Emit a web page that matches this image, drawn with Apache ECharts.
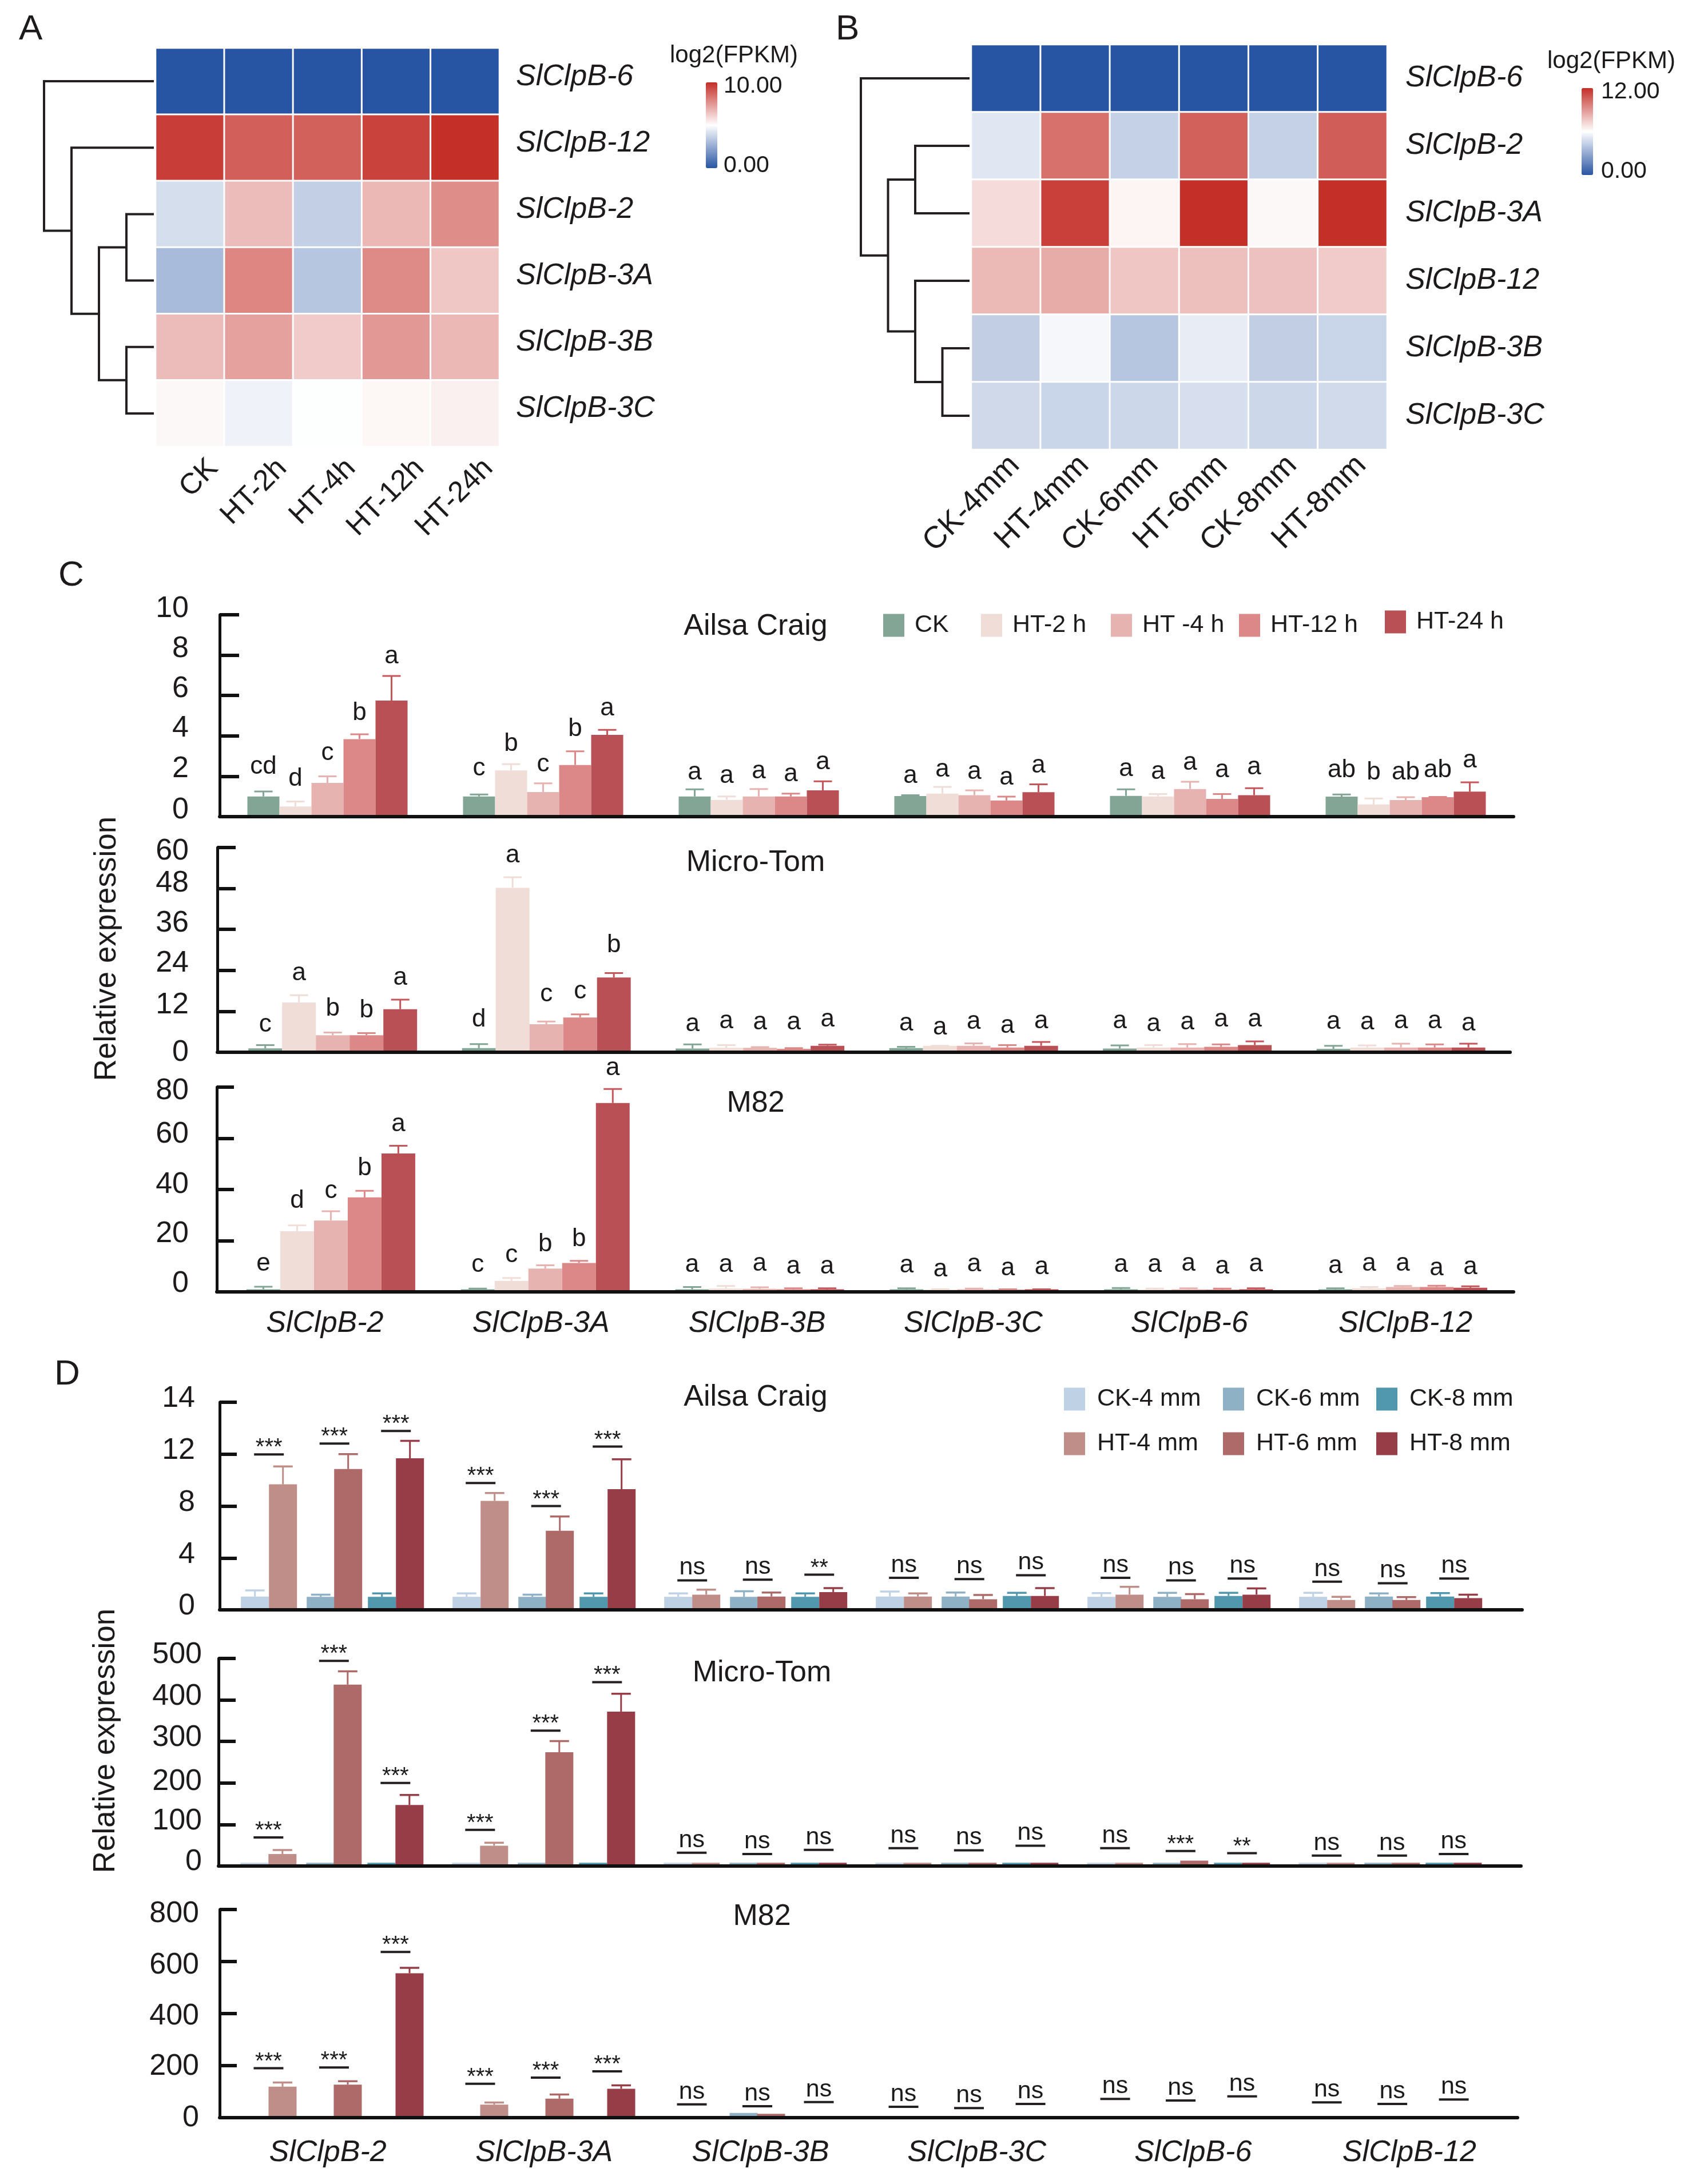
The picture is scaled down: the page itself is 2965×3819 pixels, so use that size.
<!DOCTYPE html>
<html><head><meta charset="utf-8">
<style>html,body{margin:0;padding:0;background:#fff}#c{width:2965px;height:3819px}</style>
<script src="https://cdn.jsdelivr.net/npm/echarts@6/dist/echarts.min.js"></script>
</head><body><div id="c"></div>
<script>
// ---------- DATA ----------
const genes=['SlClpB-2','SlClpB-3A','SlClpB-3B','SlClpB-3C','SlClpB-6','SlClpB-12'];
const timeNames=['CK','HT-2 h','HT -4 h','HT-12 h','HT-24 h'];
const stageNames=['CK-4 mm','HT-4 mm','CK-6 mm','HT-6 mm','CK-8 mm','HT-8 mm'];

const heatARows=['SlClpB-6','SlClpB-12','SlClpB-2','SlClpB-3A','SlClpB-3B','SlClpB-3C'];
const heatACols=['CK','HT-2h','HT-4h','HT-12h','HT-24h'];
const heatAValues=[
 [0,0,0,0,0],
 [9.66,8.84,8.8,9.55,10],
 [4.02,6.6,3.6,6.7,7.75],
 [3.0,7.9,3.3,7.8,6.35],
 [6.6,7.25,6.25,7.45,6.7],
 [5.17,4.63,4.96,5.2,5.36]];
const heatAMerges=[[2,3,1],[4,5,1],['m0','m1',2],[1,'m2',3],[0,'m3',4]];

const heatBRows=['SlClpB-6','SlClpB-2','SlClpB-3A','SlClpB-12','SlClpB-3B','SlClpB-3C'];
const heatBCols=['CK-4mm','HT-4mm','CK-6mm','HT-6mm','CK-8mm','HT-8mm'];
const heatBValues=[
 [0,0,0,0,0,0],
 [5.14,10.1,4.38,10.55,4.38,10.67],
 [7,11.5,6.3,12,6.2,12],
 [8.03,8.43,7.65,7.83,7.8,7.5],
 [4.27,5.72,4.0,5.36,4.27,4.5],
 [4.66,4.5,4.6,4.88,4.6,4.71]];
const heatBMerges=[[1,2,2],[4,5,1],[3,'m1',2],['m0','m2',3],[0,'m3',4]];

// Panel C: rows = genes, columns = CK, HT-2, HT-4, HT-12, HT-24
const cAilsaMeans=[[1,.5,1.67,3.84,5.75],[1,2.29,1.22,2.56,4.05],[1,.83,1,1,1.3],[1.02,1.14,1.06,.8,1.21],[1.03,1,1.37,.88,1.06],[.99,.6,.82,.96,1.24]];
const cAilsaTops=[[1.25,.75,2,4.08,6.97],[1.1,2.6,1.65,3.24,4.3],[1.35,1,1.37,1.14,1.75],[1.06,1.47,1.3,.99,1.6],[1.35,1.12,1.73,1.12,1.41],[1.1,.9,.96,.98,1.7]];
const cAilsaLetterY=[[2.37,1.78,3.05,5.06,7.84],[2.29,3.52,2.49,4.24,5.27],[2.1,1.94,2.17,2.02,2.6],[1.93,2.25,2.12,1.85,2.43],[2.28,2.12,2.58,2.2,2.35],[2.2,2.09,2.09,2.2,2.69]];
const cAilsaLetters=[['cd','d','c','b','a'],['c','b','c','b','a'],['a','a','a','a','a'],['a','a','a','a','a'],['a','a','a','a','a'],['ab','b','ab','ab','a']];

const cMicroMeans=[[1.13,14.6,5,5,12.6],[1.2,48.2,8.2,10.2,21.9],[1.1,1.3,1.3,1,1.9],[1.2,1.9,1.9,1.4,1.9],[1.1,1.4,1.4,1.6,2.1],[1,1.4,1.4,1.4,1.4]];
const cMicroTops=[[2.1,16.7,5.8,5.6,15.4],[2.4,51.3,9,11.1,23.2],[2.3,2.1,1.5,1.2,2.2],[1.6,1.9,2.6,2.1,3],[2,2.1,2.4,2.3,3.2],[1.9,2,2.5,2.3,2.5]];
const cMicroLetterY=[[7.6,22.7,12.3,11.8,21.3],[9,57.2,16.5,17.3,30.9],[7.8,8.5,8.2,8.2,9],[7.9,6.8,8.4,7.3,8.6],[8.6,7.7,8.2,9,9],[8.4,8.2,8.6,8.6,7.9]];
const cMicroLetters=[['c','a','b','b','a'],['d','a','c','c','b'],['a','a','a','a','a'],['a','a','a','a','a'],['a','a','a','a','a'],['a','a','a','a','a']];

const cM82Means=[[1,23.7,27.9,36.9,54.1],[1,4.3,9.1,11.3,73.8],[1,1.3,1.2,1,1],[1,.9,1,.9,1],[1,.9,1,.9,1],[1,1.4,1.9,1.9,1.6]];
const cM82Tops=[[2,26,31.5,39.5,57.1],[1.3,5.4,10.4,12.1,79.3],[1.9,2.3,1.8,1.4,1.4],[1.4,1,1.3,1,1],[1.5,1.3,1.4,1.3,1.4],[1.4,1.9,2.3,2.4,2.2]];
const cM82LetterY=[[10.2,34.9,38.6,47.7,64.9],[9.9,13.6,18,19.9,86.7],[9.9,9.9,10.2,9.3,9.3],[9.7,8,10.1,8.5,9],[9.9,9.9,10.2,9.3,10.1],[9.5,10.2,10.2,8.5,9]];
const cM82Letters=[['e','d','c','b','a'],['c','c','b','b','a'],['a','a','a','a','a'],['a','a','a','a','a'],['a','a','a','a','a'],['a','a','a','a','a']];

// Panel D: rows = genes, columns = CK-4, HT-4, CK-6, HT-6, CK-8, HT-8
const dAilsaMeans=[[1.03,9.67,1,10.85,1,11.68],[1,8.4,1,6.09,1,9.3],[1,1.17,1,1.03,1,1.37],[1.03,1.03,1.03,.82,1.07,1.07],[1,1.17,1,.82,1.07,1.17],[1,.76,1.03,.76,1.03,.9]];
const dAilsaTops=[[1.5,11.05,1.17,12,1.27,13.03],[1.27,9,1.17,7.2,1.27,11.6],[1.27,1.55,1.43,1.33,1.27,1.67],[1.41,1.27,1.33,1.15,1.31,1.67],[1.29,1.77,1.31,1.21,1.31,1.65],[1.31,1,1.27,.98,1.29,1.17]];
const dAilsaSigY=[[11.98,12.82,13.79],[9.77,8,12.58],[2.27,2.33,2.71],[2.47,2.37,2.67],[2.47,2.27,2.41],[2.17,2.05,2.41]];
const dAilsaSig=[['***','***','***'],['***','***','***'],['ns','ns','**'],['ns','ns','ns'],['ns','ns','ns'],['ns','ns','ns']];

const dMicroMeans=[[8,29,8,437,8,147],[8,49,8,274,8,372],[8,8,8,8,8,8],[8,8,8,8,8,8],[8,8,8,13,8,8],[8,8,8,8,8,8]];
const dMicroTops=[[8,38.5,8,469,8,171],[8,56,8,301,8,415],[8,8,8,8,8,8],[8,8,8,8,8,8],[8,8,8,13,8,8],[8,8,8,8,8,8]];
const dMicroSigY=[[69,494,200],[87,326,443],[32,29,39],[43,38,49],[43,36,31],[25,25,29]];
const dMicroSig=[['***','***','***'],['***','***','***'],['ns','ns','ns'],['ns','ns','ns'],['ns','***','**'],['ns','ns','ns']];

const dM82Means=[[1,119,1,127,1,555],[1,50,1,73,1,111],[1,1,18,15,1,1],[1,1,1,1,1,1],[1,1,1,1,1,1],[1,1,1,1,1,1]];
const dM82Tops=[[1,135,1,140,1,576],[1,58,1,89,1,124],[1,1,18,15,1,1],[1,1,1,1,1,1],[1,1,1,1,1,1],[1,1,1,1,1,1]];
const dM82SigY=[[190,193,637],[130,154,178],[51,44,60],[42,37,53],[72,66,82],[59,53,70]];
const dM82Sig=[['***','***','***'],['***','***','***'],['ns','ns','ns'],['ns','ns','ns'],['ns','ns','ns'],['ns','ns','ns']];

const cTickLabels={ailsa:['0','2','4','6','8','10'],micro:['0','12','24','36','48','60'],m82:['0','20','40','60','80']};
const dTickLabels={ailsa:['0','4','8','12','14'],micro:['0','100','200','300','400','500'],m82:['0','200','400','600','800']};

// ---------- STYLE / LAYOUT ----------
const FF='"Liberation Sans",Arial,sans-serif', INK='#1c1a1a';
const timeColors=['#83a595','#f0ddd8','#e7b3b1','#dd8888','#b85055'];
const timeErr=['#83a595','#f0ddd8','#e7b3b1','#dd8888','#c5565b'];
const stageColors=['#bed1e5','#c08e88','#8fb1c5','#ae6a69','#5197ae','#963d48'];
const pairOffsets=[-137,-88,-22,26,85,134];
const pairCenters=[-112.5,2,109.5];

const grid=[],xAxis=[],yAxis=[],series=[],visualMap=[],legend=[],graphic=[];

function txt(text,x,y,size,extra){
  graphic.push(Object.assign({type:'text',x,y,silent:true,style:Object.assign({text,fontSize:size,fontFamily:FF,fill:INK,align:'left',verticalAlign:'middle'},extra||{})}));
}

function addHeat(o){
  const g=grid.length;
  grid.push({left:o.left,top:o.top,width:o.width,height:o.height,containLabel:false});
  xAxis.push({type:'category',gridIndex:g,data:o.cols,position:'bottom',axisLine:{show:false},axisTick:{show:false},
    axisLabel:{interval:0,rotate:45,fontSize:o.xFont,fontFamily:FF,color:INK,margin:o.xMargin,padding:[0,-o.xShift,0,0],hideOverlap:false}});
  yAxis.push({type:'category',gridIndex:g,data:o.rows,inverse:true,position:'right',axisLine:{show:false},axisTick:{show:false},
    axisLabel:{interval:0,margin:o.yMargin,formatter:v=>'{r|'+v+'}',
      rich:{r:{fontSize:52,fontStyle:'italic',fontFamily:FF,color:INK,padding:[0,0,o.yUp,0]}}}});
  const data=[];
  o.values.forEach((r,y)=>r.forEach((v,x)=>data.push([x,y,v])));
  const si=series.length;
  series.push({type:'heatmap',xAxisIndex:xAxis.length-1,yAxisIndex:yAxis.length-1,data,silent:true,
    itemStyle:{borderColor:'#fff',borderWidth:3},progressive:0});
  visualMap.push({type:'continuous',seriesIndex:si,dimension:2,min:0,max:o.max,calculable:false,hoverLink:false,show:true,
    left:o.vmLeft,top:o.vmTop,itemWidth:20,itemHeight:o.vmH,padding:0,text:null,showLabel:false,
    inRange:{color:['#2855a3','#ffffff','#c42f28']}});
  // dendrogram
  const dg=grid.length;
  grid.push({left:o.dLeft,top:o.top,width:o.dWidth,height:o.height});
  xAxis.push({type:'value',gridIndex:dg,min:0,max:4,inverse:true,show:false});
  yAxis.push({type:'value',gridIndex:dg,min:-0.5,max:o.rows.length-0.5,inverse:true,show:false});
  const nodes={};
  const seg=o.merges.map((m,i)=>{
    const pos=k=>typeof k==='number'?[k,0]:nodes[k];
    const a=pos(m[0]),b=pos(m[1]);
    nodes['m'+i]=[(a[0]+b[0])/2,m[2]];
    return [m[2],a[0],b[0],a[1],b[1]];
  });
  series.push({type:'custom',xAxisIndex:xAxis.length-1,yAxisIndex:yAxis.length-1,silent:true,data:seg,encode:{x:0,y:1},
    renderItem:(p,api)=>{
      const h=api.value(0),y1=api.value(1),y2=api.value(2),h1=api.value(3),h2=api.value(4);
      return {type:'polyline',shape:{points:[api.coord([h1,y1]),api.coord([h,y1]),api.coord([h,y2]),api.coord([h2,y2])]},
        style:{stroke:'#231f20',lineWidth:4,fill:'none'}};
    }});
  txt('log2(FPKM)',o.logX,o.logY,42);
  txt(o.max.toFixed(2),o.lblX,o.lblTop,41);
  txt('0.00',o.lblX,o.lblBot,41);
}

function addAxes(p){
  const g=grid.length;
  grid.push({left:p.left,top:p.top,width:p.right-p.left,height:p.base-p.top});
  const vx=xAxis.length;
  xAxis.push({type:'value',gridIndex:g,min:p.xmin,max:p.xmax,position:'bottom',z:10,splitLine:{show:false},axisLabel:{show:false},axisTick:{show:false},
    axisLine:{show:true,onZero:false,lineStyle:{color:'#111',width:6}}});
  if(p.showGenes){
    xAxis.push({type:'category',gridIndex:g,data:genes,position:'bottom',axisLine:{show:false},axisTick:{show:false},
      axisLabel:{interval:0,fontSize:52,fontStyle:'italic',fontFamily:FF,color:INK,margin:p.geneMargin}});
  }
  const ys=yAxis.length;
  const rich={};
  p.labels.forEach((l,i)=>{const s=p.shifts[i];rich['s'+i]={fontSize:52,fontFamily:FF,color:INK,padding:s<0?[0,0,-2*s,0]:[2*s,0,0,0]};});
  yAxis.push({type:'value',gridIndex:g,min:0,max:p.max,interval:p.interval,position:'left',z:10,splitLine:{show:false},
    axisLine:{show:true,onZero:false,lineStyle:{color:'#111',width:5}},
    axisTick:{show:true,inside:true,length:p.tick,lineStyle:{color:'#111',width:6}},
    axisLabel:{show:true,margin:p.labelMargin,showMaxLabel:true,showMinLabel:true,
      formatter:v=>{const i=Math.round(v/p.interval);return '{s'+i+'|'+p.labels[i]+'}';},rich}});
  txt(p.title,p.titleX,p.titleY,52,{align:'center'});
  return {vx,ys};
}

function addC(p){
  const a=addAxes(p);
  const off=[-2,-1,0,1,2].map(k=>k*p.barW/p.spacing);
  timeNames.forEach((name,s)=>{
    series.push({type:'bar',name,xAxisIndex:a.vx,yAxisIndex:a.ys,barWidth:p.barW,barGap:'-100%',silent:true,
      itemStyle:{color:timeColors[s]},data:genes.map((g,i)=>[i+off[s],p.means[i][s]])});
  });
  const rows=[];
  genes.forEach((g,i)=>off.forEach((o,s)=>rows.push([i+o,p.tops[i][s],p.means[i][s],p.letterY[i][s],s,p.letters[i][s]])));
  series.push({type:'custom',xAxisIndex:a.vx,yAxisIndex:a.ys,silent:true,z:5,data:rows.map(r=>r.slice(0,5)),encode:{x:0,y:1},
    renderItem:(pr,api)=>{
      const x=api.value(0),t=api.coord([x,api.value(1)]),b=api.coord([x,api.value(2)]),l=api.coord([x,api.value(3)]),s=api.value(4),c=timeErr[s];
      return {type:'group',children:[
        {type:'line',shape:{x1:t[0],y1:t[1],x2:b[0],y2:b[1]},style:{stroke:c,lineWidth:3}},
        {type:'line',shape:{x1:t[0]-16,y1:t[1],x2:t[0]+16,y2:t[1]},style:{stroke:c,lineWidth:3}},
        {type:'text',x:l[0],y:l[1]-3,style:{text:rows[pr.dataIndex][5],fontSize:44,fontFamily:FF,fill:INK,align:'center',verticalAlign:'middle'}}
      ]};
    }});
}

function addD(p){
  const a=addAxes(p);
  const off=pairOffsets.map(k=>k/p.spacing), cen=pairCenters.map(k=>k/p.spacing);
  stageNames.forEach((name,s)=>{
    series.push({type:'bar',name,xAxisIndex:a.vx,yAxisIndex:a.ys,barWidth:p.barW,barGap:'-100%',silent:true,
      itemStyle:{color:stageColors[s]},data:genes.map((g,i)=>[i+off[s],p.means[i][s]])});
  });
  const rows=[];
  genes.forEach((g,i)=>off.forEach((o,s)=>{if(p.tops[i][s]>p.means[i][s])rows.push([i+o,p.tops[i][s],p.means[i][s],s]);}));
  series.push({type:'custom',xAxisIndex:a.vx,yAxisIndex:a.ys,silent:true,z:5,data:rows,encode:{x:0,y:1},
    renderItem:(pr,api)=>{
      const x=api.value(0),t=api.coord([x,api.value(1)]),b=api.coord([x,api.value(2)]),c=stageColors[api.value(3)];
      return {type:'group',children:[
        {type:'line',shape:{x1:t[0],y1:t[1],x2:b[0],y2:b[1]},style:{stroke:c,lineWidth:3}},
        {type:'line',shape:{x1:t[0]-17,y1:t[1],x2:t[0]+17,y2:t[1]},style:{stroke:c,lineWidth:3.5}}
      ]};
    }});
  const sig=[];
  genes.forEach((g,i)=>cen.forEach((o,k)=>sig.push([i+o,p.sigY[i][k],p.sig[i][k]])));
  series.push({type:'custom',xAxisIndex:a.vx,yAxisIndex:a.ys,silent:true,z:6,data:sig.map(r=>r.slice(0,2)),encode:{x:0,y:1},
    renderItem:(pr,api)=>{
      const c=api.coord([api.value(0),api.value(1)]),t=sig[pr.dataIndex][2],ns=t==='ns';
      return {type:'group',children:[
        {type:'line',shape:{x1:c[0]-26,y1:c[1],x2:c[0]+26,y2:c[1]},style:{stroke:'#231f20',lineWidth:4}},
        {type:'text',x:c[0],y:c[1]-(ns?22:11),style:{text:t,fontSize:ns?43:40,fontFamily:FF,fill:INK,align:'center',verticalAlign:'middle'}}
      ]};
    }});
}

addHeat({left:272,top:84,width:601,height:697,cols:heatACols,rows:heatARows,values:heatAValues,merges:heatAMerges,max:10,xFont:51,
  xMargin:71,xShift:58,yMargin:29,yUp:16,vmLeft:1234,vmTop:144,vmH:150,dLeft:77,dWidth:192,logX:1171,logY:97,lblX:1265,lblTop:151,lblBot:290});
addHeat({left:1698,top:78,width:727,height:708,cols:heatBCols,rows:heatBRows,values:heatBValues,merges:heatBMerges,max:12,xFont:54,
  xMargin:35,xShift:22,yMargin:32,yUp:0,vmLeft:2765,vmTop:154,vmH:152,dLeft:1505,dWidth:190,logX:2705,logY:107,lblX:2799,lblTop:161,lblBot:300});

addC({title:'Ailsa Craig',titleX:1321,titleY:1096,left:384,right:2646,top:1075,base:1428,max:10,interval:2,xmin:-0.5,xmax:5.5,spacing:377,barW:56,tick:34,labelMargin:54,
  labels:cTickLabels.ailsa,shifts:[-11,-13,-13,-12,-11,-10],means:cAilsaMeans,tops:cAilsaTops,letterY:cAilsaLetterY,letters:cAilsaLetters});
addC({title:'Micro-Tom',titleX:1321,titleY:1509,left:380,right:2640,top:1482,base:1840,max:60,interval:12,xmin:-0.54,xmax:5.511,spacing:373.5,barW:59,tick:32,labelMargin:50,
  labels:cTickLabels.micro,shifts:[1,-11,-12,-11,-9,7],means:cMicroMeans,tops:cMicroTops,letterY:cMicroLetterY,letters:cMicroLetters});
addC({title:'M82',titleX:1321,titleY:1930,left:379,right:2646,top:1901,base:2259,max:80,interval:20,xmin:-0.532,xmax:5.516,spacing:374.8,barW:59,tick:30,labelMargin:49,showGenes:true,geneMargin:30,
  labels:cTickLabels.m82,shifts:[-14,-12,-8,-7,7],means:cM82Means,tops:cM82Tops,letterY:cM82LetterY,letters:cM82Letters});

addD({title:'Ailsa Craig',titleX:1321,titleY:2444,left:384,right:2661,top:2452,base:2815,max:16,interval:4,xmin:-0.537,xmax:5.617,spacing:370,barW:49,tick:30,labelMargin:43,
  labels:dTickLabels.ailsa,shifts:[-6,-6,-6,-6,-6],means:dAilsaMeans,tops:dAilsaTops,sigY:dAilsaSigY,sig:dAilsaSig});
addD({title:'Micro-Tom',titleX:1332,titleY:2926,left:382,right:2659,top:2900,base:3263,max:500,interval:100,xmin:-0.54,xmax:5.614,spacing:370,barW:49,tick:30,labelMargin:29,
  labels:dTickLabels.micro,shifts:[-7,-6,-2,-7,-6,-6],means:dMicroMeans,tops:dMicroTops,sigY:dMicroSigY,sig:dMicroSig});
addD({title:'M82',titleX:1332,titleY:3352,left:384,right:2653,top:3339,base:3703,max:800,interval:200,xmin:-0.535,xmax:5.597,spacing:370,barW:49,tick:30,labelMargin:36,showGenes:true,geneMargin:36,
  labels:dTickLabels.m82,shifts:[1,2,5,7,8],means:dM82Means,tops:dM82Tops,sigY:dM82SigY,sig:dM82Sig});

// panel letters and shared axis titles
[['A',33,52],['B',1461,52],['C',102,1007],['D',95,2404]].forEach(a=>txt(a[0],a[1],a[2],62));
graphic.push({type:'text',x:187,y:1659,rotation:Math.PI/2,silent:true,style:{text:'Relative expression',fontSize:53,fontFamily:FF,fill:INK,align:'center',verticalAlign:'middle'}});
graphic.push({type:'text',x:185,y:3044,rotation:Math.PI/2,silent:true,style:{text:'Relative expression',fontSize:53,fontFamily:FF,fill:INK,align:'center',verticalAlign:'middle'}});

// legends
function leg(name,left,top,h,gap){
  legend.push({data:[name],left,top,orient:'horizontal',padding:0,itemWidth:37,itemHeight:h,icon:'rect',selectedMode:false,
    textStyle:{fontSize:43,fontFamily:FF,color:INK,padding:[0,0,0,gap]}});
}
[['CK',1544,1072],['HT-2 h',1715,1072],['HT -4 h',1942,1072],['HT-12 h',2166,1072],['HT-24 h',2421,1066]].forEach(a=>leg(a[0],a[1],a[2],40,13));
[['CK-4 mm',1860,2425],['CK-6 mm',2138,2425],['CK-8 mm',2406,2425],['HT-4 mm',1860,2503],['HT-6 mm',2138,2503],['HT-8 mm',2406,2503]].forEach(a=>leg(a[0],a[1],a[2],40,16));

const chart=echarts.init(document.getElementById('c'),null,{renderer:'canvas',width:2965,height:3819});
chart.setOption({animation:false,backgroundColor:'#ffffff',grid,xAxis,yAxis,series,visualMap,legend,graphic:{elements:graphic}});
</script></body></html>
